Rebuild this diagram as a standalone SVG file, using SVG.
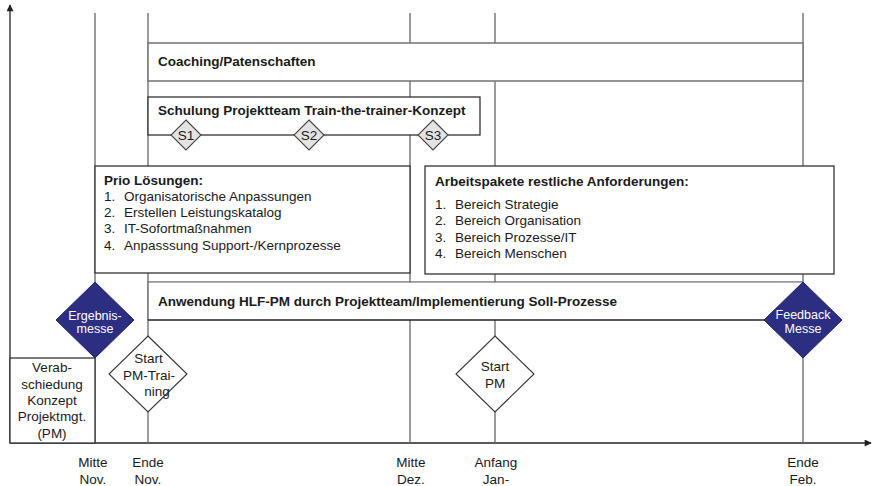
<svg xmlns="http://www.w3.org/2000/svg" width="879" height="486" viewBox="0 0 879 486">
  <defs>
    <style>
      .t { font-family: "Liberation Sans", Arial, sans-serif; font-size: 13.5px; fill: #1a1a1a; }
      .b { font-weight: bold; }
      .c { text-anchor: middle; }
      .w { fill: #ffffff; font-size: 12.5px; }
      .grid { stroke: #666666; stroke-width: 1.3; fill: none; }
      .axis { stroke: #222222; stroke-width: 1.3; fill: none; }
      .box { fill: #ffffff; stroke: #333333; stroke-width: 1.3; }
      .gbox { fill: #ffffff; stroke: #7a7a7a; stroke-width: 1.6; }
      .sd { fill: #e3e3e3; stroke: #444444; stroke-width: 1.1; }
      .wd { fill: #ffffff; stroke: #333333; stroke-width: 1.1; }
      .nd { fill: #2c2e82; stroke: #23246a; stroke-width: 1; }
    </style>
    <marker id="arr" viewBox="0 0 10 10" refX="9" refY="5" markerWidth="8" markerHeight="7" markerUnits="userSpaceOnUse" orient="auto">
      <path d="M0,0 L10,5 L0,10 z" fill="#222222"/>
    </marker>
  </defs>
  <rect width="879" height="486" fill="#ffffff"/>

  <g id="connectors">
    <line class="axis" x1="10" y1="443" x2="10" y2="5" marker-end="url(#arr)"/>
    <line class="axis" x1="10" y1="443" x2="871" y2="443" marker-end="url(#arr)"/>
    <line class="grid" x1="95" y1="13" x2="95" y2="443"/>
    <line class="grid" x1="148" y1="13" x2="148" y2="443"/>
    <line class="grid" x1="410" y1="13" x2="410" y2="443"/>
    <line class="grid" x1="495" y1="13" x2="495" y2="443"/>
    <line class="grid" x1="803" y1="13" x2="803" y2="443"/>
  </g>

  <g id="coaching">
    <rect class="gbox" x="148" y="43" width="655" height="38"/>
    <text class="t b" x="158" y="66">Coaching/Patenschaften</text>
  </g>

  <g id="schulung">
    <rect class="box" x="148" y="97" width="332" height="38" stroke="#444"/>
    <text class="t b" x="158" y="115">Schulung Projektteam Train-the-trainer-Konzept</text>
  </g>
  <g id="s1">
    <polygon class="sd" points="186,120 201,135 186,150 171,135"/>
    <text class="t c" x="186" y="140">S1</text>
  </g>
  <g id="s2">
    <polygon class="sd" points="309,120 324,135 309,150 294,135"/>
    <text class="t c" x="309" y="140">S2</text>
  </g>
  <g id="s3">
    <polygon class="sd" points="433,120 448,135 433,150 418,135"/>
    <text class="t c" x="433" y="140">S3</text>
  </g>

  <g id="prio">
    <rect class="box" x="95" y="166" width="315" height="107"/>
    <text class="t b" x="104" y="185">Prio Lösungen:</text>
    <text class="t" x="104" y="201">1.</text><text class="t" x="124" y="201">Organisatorische Anpassungen</text>
    <text class="t" x="104" y="217">2.</text><text class="t" x="124" y="217">Erstellen Leistungskatalog</text>
    <text class="t" x="104" y="233">3.</text><text class="t" x="124" y="233">IT-Sofortmaßnahmen</text>
    <text class="t" x="104" y="249.5">4.</text><text class="t" x="124" y="249.5">Anpasssung Support-/Kernprozesse</text>
  </g>

  <g id="arbeitspakete">
    <rect class="box" x="425" y="166" width="409" height="108"/>
    <text class="t b" x="435" y="186">Arbeitspakete restliche Anforderungen:</text>
    <text class="t" x="435" y="208.5">1.</text><text class="t" x="455" y="208.5">Bereich Strategie</text>
    <text class="t" x="435" y="225">2.</text><text class="t" x="455" y="225">Bereich Organisation</text>
    <text class="t" x="435" y="241.5">3.</text><text class="t" x="455" y="241.5">Bereich Prozesse/IT</text>
    <text class="t" x="435" y="258">4.</text><text class="t" x="455" y="258">Bereich Menschen</text>
  </g>

  <g id="anwendung">
    <path d="M148,320 L148,282 L803,282" fill="none" stroke="#7a7a7a" stroke-width="1.6"/>
    <rect x="148.8" y="282.8" width="654" height="37" fill="#ffffff"/>
    <path d="M148,320 L803,320" fill="none" stroke="#222222" stroke-width="1.3"/>
    <text class="t b" x="158" y="306">Anwendung HLF-PM durch Projektteam/Implementierung Soll-Prozesse</text>
  </g>

  <g id="verabschiedung">
    <rect class="box" x="10" y="358" width="85" height="85"/>
    <text class="t c" x="52" y="372">Verab-</text>
    <text class="t c" x="52" y="388.5">schiedung</text>
    <text class="t c" x="52" y="405">Konzept</text>
    <text class="t c" x="52" y="421">Projektmgt.</text>
    <text class="t c" x="52" y="437.5">(PM)</text>
  </g>

  <g id="ergebnismesse">
    <polygon class="nd" points="95,282 134,320 95,358 56,320"/>
    <text class="t w c" x="95" y="320">Ergebnis-</text>
    <text class="t w c" x="95" y="333">messe</text>
  </g>

  <g id="feedbackmesse">
    <polygon class="nd" points="803,282 842,320 803,358 764,320"/>
    <text class="t w c" x="803" y="319">Feedback</text>
    <text class="t w c" x="803" y="332.5">Messe</text>
  </g>

  <g id="start-pm-training">
    <polygon class="wd" points="148,336 187,374 148,412 109,374"/>
    <text class="t c" x="148.5" y="363">Start</text>
    <text class="t c" x="149" y="379.5">PM-Trai-</text>
    <text class="t c" x="157" y="396">ning</text>
  </g>

  <g id="start-pm">
    <polygon class="wd" points="495,336 534,374 495,412 456,374"/>
    <text class="t c" x="495" y="371">Start</text>
    <text class="t c" x="495" y="387.5">PM</text>
  </g>

  <g id="labels">
    <text class="t c" x="93" y="467">Mitte</text>
    <text class="t c" x="93" y="483.5">Nov.</text>
    <text class="t c" x="148" y="467">Ende</text>
    <text class="t c" x="148" y="483.5">Nov.</text>
    <text class="t c" x="411" y="467">Mitte</text>
    <text class="t c" x="411" y="483.5">Dez.</text>
    <text class="t c" x="496" y="467">Anfang</text>
    <text class="t c" x="496" y="483.5">Jan-</text>
    <text class="t c" x="803" y="467">Ende</text>
    <text class="t c" x="803" y="483.5">Feb.</text>
  </g>
</svg>
